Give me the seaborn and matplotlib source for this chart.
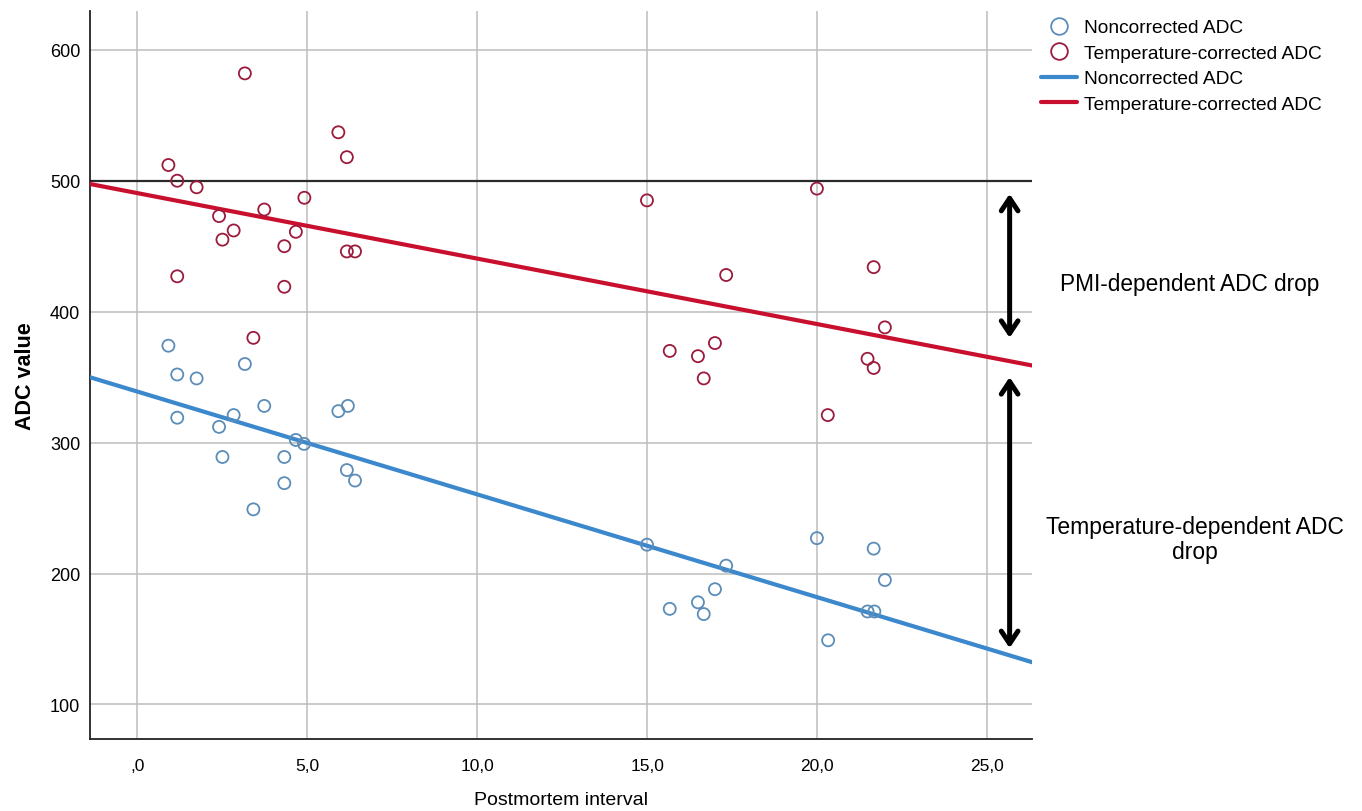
import numpy as np
import pandas as pd
import matplotlib
matplotlib.use("Agg")
import matplotlib.pyplot as plt
import seaborn as sns
from matplotlib.lines import Line2D

# ---- data ----
pmi = [3.16, 5.91, 6.16, 0.91, 1.17, 1.74, 4.91, 3.73, 2.40, 2.83,
       4.66, 2.50, 4.32, 6.16, 6.40, 1.17, 4.32, 3.41,
       14.99, 19.99, 17.32, 21.66, 21.99, 16.99, 15.66, 16.49, 16.66,
       21.48, 21.66, 20.31]
adc_corrected = [582, 537, 518, 512, 500, 495, 487, 478, 473, 462,
                 461, 455, 450, 446, 446, 427, 419, 380,
                 485, 494, 428, 434, 388, 376, 370, 366, 349,
                 364, 357, 321]
pmi_nc = [0.91, 1.17, 1.74, 3.16, 3.73, 5.91, 6.19, 1.17, 2.83, 2.40,
          4.66, 4.90, 2.50, 4.32, 6.16, 6.40, 4.32, 3.41,
          14.99, 17.32, 19.99, 21.66, 21.99, 16.99, 15.66, 16.49, 16.66,
          21.48, 21.68, 20.32]
adc_noncorrected = [374, 352, 349, 360, 328, 324, 328, 319, 321, 312,
                    302, 299, 289, 289, 279, 271, 269, 249,
                    222, 206, 227, 219, 195, 188, 173, 178, 169,
                    171, 171, 149]
x_ticks = [0, 5, 10, 15, 20, 25]
x_ticklabels = [",0", "5,0", "10,0", "15,0", "20,0", "25,0"]
y_ticks = [100, 200, 300, 400, 500, 600]
reference_level = 500
pmi_arrow_span = [490, 380]
temp_arrow_span = [350, 143]
arrow_x = 25.66

df_c = pd.DataFrame({"pmi": pmi, "adc": adc_corrected})
df_n = pd.DataFrame({"pmi": pmi_nc, "adc": adc_noncorrected})

BLUE_PT = "#5b8db8"
RED_PT = "#9b1b3c"
BLUE_LN = "#3c88cc"
RED_LN = "#c8102e"

sns.set_style("white")
plt.rcParams["font.family"] = ["Liberation Sans", "DejaVu Sans"]
plt.rcParams["text.color"] = "black"
plt.rcParams["axes.labelcolor"] = "black"
plt.rcParams["xtick.color"] = "black"
plt.rcParams["ytick.color"] = "black"

fig = plt.figure(figsize=(13.62, 8.12), dpi=100)
ax = fig.add_axes([0.066, 0.089, 0.692, 0.896])
ax.set_xlim(-1.40, 26.33)
ax.set_ylim(73.8, 629.5)

ax.set_xticks(x_ticks)
ax.set_xticklabels(x_ticklabels)
ax.set_yticks(y_ticks)
ax.grid(True, color="#bdbdbd", lw=1.1)
ax.set_axisbelow(True)

ax.axhline(reference_level, color="#2a2a2a", lw=1.6, zorder=2)

sns.regplot(data=df_n, x="pmi", y="adc", scatter=False, ci=None, truncate=False,
            ax=ax, line_kws={"color": BLUE_LN, "lw": 3, "zorder": 3})
sns.regplot(data=df_c, x="pmi", y="adc", scatter=False, ci=None, truncate=False,
            ax=ax, line_kws={"color": RED_LN, "lw": 3, "zorder": 3})
sns.scatterplot(data=df_n, x="pmi", y="adc", ax=ax, marker="o", s=75,
                facecolor="none", edgecolor=BLUE_PT, linewidth=1.3, zorder=4)
sns.scatterplot(data=df_c, x="pmi", y="adc", ax=ax, marker="o", s=75,
                facecolor="none", edgecolor=RED_PT, linewidth=1.3, zorder=4)
ax.set_xlim(-1.40, 26.33)
ax.set_ylim(73.8, 629.5)

for s in ["top", "right"]:
    ax.spines[s].set_visible(False)
for s in ["left", "bottom"]:
    ax.spines[s].set_color("#222222")
    ax.spines[s].set_linewidth(1.3)
ax.tick_params(axis="x", length=0, pad=14, labelsize=12.5)
ax.tick_params(axis="y", length=0, pad=7, labelsize=13)

ax.set_xlabel("Postmortem interval", fontsize=14, labelpad=13)
ax.set_ylabel("ADC value", fontsize=15.5, fontweight="bold", labelpad=10)

# arrows
arrow_kw = dict(arrowstyle="<->,head_length=0.9,head_width=0.6", color="black", lw=3.6,
                shrinkA=0, shrinkB=0)
ax.annotate("", xy=(arrow_x, pmi_arrow_span[1]), xytext=(arrow_x, pmi_arrow_span[0]),
            arrowprops=arrow_kw, annotation_clip=False)
ax.annotate("", xy=(arrow_x, temp_arrow_span[1]), xytext=(arrow_x, temp_arrow_span[0]),
            arrowprops=arrow_kw, annotation_clip=False)

fig.text(1190 / 1362, 1 - 285 / 812, "PMI-dependent ADC drop", fontsize=16.3,
         ha="center", va="center")
fig.text(1195 / 1362, 1 - 540 / 812, "Temperature-dependent ADC\ndrop", fontsize=16.5,
         ha="center", va="center", linespacing=1.1)

handles = [
    Line2D([], [], marker="o", ls="none", markerfacecolor="none",
           markeredgecolor=BLUE_PT, markersize=12, markeredgewidth=1.3),
    Line2D([], [], marker="o", ls="none", markerfacecolor="none",
           markeredgecolor=RED_PT, markersize=12, markeredgewidth=1.3),
    Line2D([], [], color=BLUE_LN, lw=3),
    Line2D([], [], color=RED_LN, lw=3),
]
labels = ["Noncorrected ADC", "Temperature-corrected ADC",
          "Noncorrected ADC", "Temperature-corrected ADC"]
fig.legend(handles, labels, loc="upper left", bbox_to_anchor=(1041 / 1362, 1 - 20 / 812),
           frameon=False, fontsize=13.8, handlelength=1.9, handletextpad=0.35,
           labelspacing=0.42, borderaxespad=0, borderpad=0)

fig.savefig("out.png", dpi=100)
